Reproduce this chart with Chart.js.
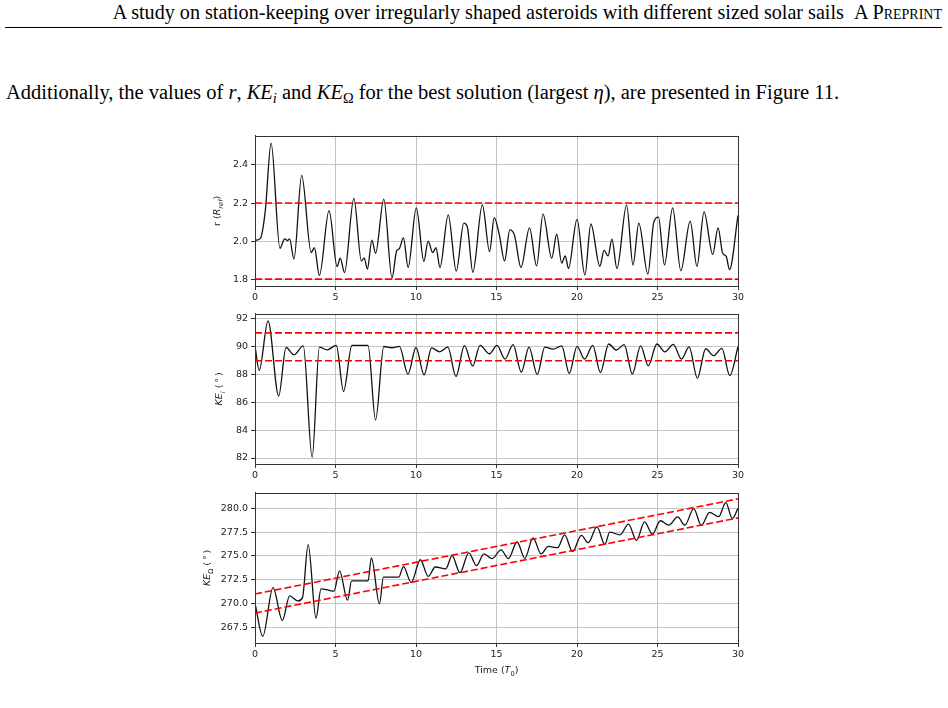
<!DOCTYPE html>
<html>
<head>
<meta charset="utf-8">
<script src="https://cdn.jsdelivr.net/npm/chart.js@4.4.1/dist/chart.umd.min.js"></script>
<style>
  body { margin: 0; width: 948px; height: 708px; background: #fff; position: relative; overflow: hidden;
         font-family: "Liberation Serif", "Times New Roman", serif; color: #000; }
  .hdr { position: absolute; right: 6px; top: 2px; font-size: 20.15px; line-height: 20px; white-space: nowrap; }
  .hdr .sc { font-variant: small-caps; }
  .rule { position: absolute; left: 5px; right: 6px; top: 27px; border-top: 1px solid #000; }
  .para { position: absolute; left: 6px; top: 82px; font-size: 20.5px; line-height: 20px; white-space: nowrap; }
  .para sub { font-size: 70%; line-height: 0; vertical-align: -0.25em; }
  canvas { position: absolute; left: 190px; }
</style>
</head>
<body>
<div class="hdr">A study on station-keeping over irregularly shaped asteroids with different sized solar sails&nbsp;&nbsp;<span class="sc">A Preprint</span></div>
<div class="rule"></div>
<div class="para">Additionally, the values of <i>r</i>, <i>KE<sub>i</sub></i> and <i>KE</i><sub>Ω</sub> for the best solution (largest <i>η</i>), are presented in Figure 11.</div>

<canvas id="rChart" width="560" height="179" style="top:127px"></canvas>
<canvas id="kiChart" width="560" height="179" style="top:305px"></canvas>
<canvas id="koChart" width="560" height="197" style="top:484px"></canvas>

<script>
// r (R_ref) over time
const r_t = [0, 0.33, 0.64, 1.0, 1.55, 1.84, 2.03, 2.15, 2.42, 2.9, 3.49, 3.69, 4.0, 4.6, 5.1, 5.29, 5.56, 6.14, 6.61, 6.78,
  6.98, 7.26, 7.49, 8.0, 8.51, 8.8, 8.96, 9.22, 9.51, 10.02, 10.49, 10.75, 11.04, 11.24, 11.49, 12.0, 12.5, 12.97, 13.19, 13.53,
  14.12, 14.57, 14.86, 15.17, 15.5, 15.83, 16.12, 16.52, 17.05, 17.49, 17.89, 18.43, 18.74, 19.05, 19.27, 19.47, 20.0, 20.49, 20.86, 21.42,
  21.68, 21.93, 22.17, 22.48, 23.08, 23.48, 23.84, 24.4, 24.77, 25.06, 25.43, 25.94, 26.45, 27.03, 27.45, 27.89, 28.43, 28.76, 29.05, 29.27,
  29.47, 30];
const r_val = [2.004, 2.013, 2.16, 2.515, 1.962, 2.012, 2.003, 2.012, 1.905, 2.345, 1.94, 1.965, 1.82, 2.16, 1.866, 1.91, 1.835, 2.225, 1.895, 1.912,
  1.853, 2.005, 1.936, 2.221, 1.806, 1.95, 1.96, 2.017, 1.862, 2.175, 1.893, 2.0, 1.94, 1.965, 1.862, 2.138, 1.843, 2.095, 2.074, 1.836,
  2.19, 1.945, 2.123, 2.035, 1.896, 2.059, 2.03, 1.862, 2.07, 1.87, 2.142, 1.91, 2.036, 1.884, 1.922, 1.856, 2.114, 1.822, 2.09, 1.867,
  1.951, 1.922, 2.01, 1.855, 2.189, 1.874, 2.095, 1.827, 2.1, 2.126, 1.875, 2.175, 1.844, 2.105, 1.867, 2.154, 1.93, 2.07, 1.936, 1.92,
  1.85, 2.135];

// KE_i (deg)
const ki_t = [0, 0.26, 0.81, 1.47, 1.93, 2.42, 3.0, 3.55, 4.0, 4.48, 5.05, 5.5, 6.02, 7.02, 7.49, 8.0, 8.5, 8.97, 9.5, 10.0,
  10.5, 10.97, 11.47, 11.98, 12.48, 13.01, 13.52, 13.98, 14.56, 15.03, 15.53, 16.03, 16.54, 17.02, 17.53, 18.0, 18.52, 19.05, 19.52, 20.0,
  20.47, 20.98, 21.45, 21.97, 22.44, 22.93, 23.44, 23.95, 24.43, 24.96, 25.46, 25.98, 26.49, 26.96, 27.48, 27.99, 28.48, 29.0, 29.49, 30];
const ki_val = [90.05, 88.3, 91.87, 86.46, 89.95, 89.43, 90.07, 82.05, 89.97, 89.78, 90.1, 86.8, 90.1, 90.1, 84.73, 90.02, 89.93, 90.03, 88.03, 89.95,
  87.99, 89.92, 89.64, 89.97, 87.87, 90.08, 88.62, 90.1, 89.5, 90.1, 89.12, 90.15, 88.17, 89.97, 88.01, 89.97, 89.83, 90.07, 88.08, 90.03,
  89.12, 90.1, 88.15, 90.2, 89.77, 90.15, 88.05, 90.06, 88.64, 90.2, 89.64, 90.17, 89.12, 90.0, 87.74, 89.86, 89.36, 89.88, 87.93, 90.0];

// KE_Omega (deg)
const ko_t = [0, 0.48, 1.12, 1.7, 2.15, 2.67, 2.95, 3.3, 3.79, 4.1, 4.57, 4.9, 5.25, 5.75, 6.0, 7.02, 7.23, 7.73, 7.98, 8.93,
  9.22, 9.7, 10.27, 10.76, 11.2, 11.85, 12.24, 12.73, 13.28, 13.76, 14.22, 14.73, 15.28, 15.74, 16.28, 16.76, 17.27, 17.77, 18.22, 18.8,
  19.23, 19.72, 20.27, 20.7, 21.24, 21.73, 22.03, 22.67, 23.2, 23.69, 24.2, 24.68, 25.18, 25.7, 26.25, 26.7, 27.25, 27.72, 28.23, 28.8,
  29.24, 29.65, 30];
const ko_val = [270.03, 266.55, 271.67, 268.22, 270.8, 270.27, 270.62, 276.19, 268.46, 271.53, 271.4, 271.3, 273.43, 270.35, 272.38, 272.38, 274.79, 269.97, 272.78, 272.78,
  273.87, 272.2, 274.6, 272.85, 273.84, 273.64, 275.03, 273.24, 275.33, 273.99, 275.22, 274.72, 275.64, 274.72, 276.47, 274.75, 276.9, 275.22, 276.0, 275.87,
  277.22, 275.45, 277.16, 276.4, 278.06, 276.2, 277.5, 277.22, 278.34, 276.64, 278.58, 277.3, 278.7, 278.24, 279.1, 278.24, 279.98, 278.2, 279.58, 279.13,
  280.6, 278.94, 280.0];

// red dashed limits
const band_t = [0, 30];
const r_upper = [2.2, 2.2], r_lower = [1.8, 1.8];
const ki_upper = [91, 91], ki_lower = [89, 89];
const ko_upper = [271, 281], ko_lower = [269, 279];

const FONT = '"DejaVu Sans", sans-serif';
const FS = 9.5;

function pts(xs, ys) { return xs.map((x, i) => ({ x: x, y: ys[i] })); }

// draws label parts (italic / subscript) centred at x,y
function drawRich(ctx, parts, x, y, rotate) {
  ctx.save();
  ctx.translate(x, y);
  if (rotate) ctx.rotate(-Math.PI / 2);
  ctx.textBaseline = 'middle';
  ctx.textAlign = 'left';
  ctx.fillStyle = '#222';
  const fontOf = p => (p.i ? 'italic ' : '') + (p.s ? FS * 0.7 : FS) + 'px ' + FONT;
  let w = 0;
  parts.forEach(p => { ctx.font = fontOf(p); w += ctx.measureText(p.t).width; });
  let cx = -w / 2;
  parts.forEach(p => {
    ctx.font = fontOf(p);
    ctx.fillText(p.t, cx, p.s ? FS * 0.3 : 0);
    cx += ctx.measureText(p.t).width;
  });
  ctx.restore();
}

const framePlugin = {
  id: 'frameLabels',
  afterDraw(chart, args, opts) {
    const { ctx, chartArea: a } = chart;
    ctx.save();
    ctx.strokeStyle = '#333';
    ctx.lineWidth = 1;
    const L = Math.round(a.left) + 0.5, T = Math.round(a.top) + 0.5;
    const R = Math.round(a.right) + 0.5, B = Math.round(a.bottom) + 0.5;
    ctx.strokeRect(L, T, R - L, B - T);
    ctx.restore();
    if (opts.yParts) drawRich(ctx, opts.yParts, opts.yX, (a.top + a.bottom) / 2, true);
    if (opts.xParts) drawRich(ctx, opts.xParts, (a.left + a.right) / 2, a.bottom + 28, false);
  }
};

function makeChart(id, t, vals, up, low, ymin, ymax, step, dec, labelOpts, padBottom) {
  return new Chart(document.getElementById(id), {
    type: 'line',
    data: {
      datasets: [
        { data: pts(band_t, up), borderColor: '#ff0000', borderWidth: 1.6, borderDash: [7, 3], pointRadius: 0, tension: 0 },
        { data: pts(band_t, low), borderColor: '#ff0000', borderWidth: 1.6, borderDash: [7, 3], pointRadius: 0, tension: 0 },
        { data: pts(t, vals), borderColor: '#111', borderWidth: 1.3, pointRadius: 0, cubicInterpolationMode: 'monotone' }
      ]
    },
    options: {
      responsive: false,
      animation: false,
      layout: { padding: { top: 8, right: 12, left: 0, bottom: padBottom } },
      plugins: { legend: { display: false }, tooltip: { enabled: false }, frameLabels: labelOpts },
      scales: {
        x: {
          type: 'linear', min: 0, max: 30,
          afterFit: s => { s.height = 20; },
          ticks: { stepSize: 5, padding: 2, color: '#222', font: { family: FONT, size: FS }, maxRotation: 0 },
          grid: { color: '#c4c4c4', lineWidth: 1, tickLength: 4, tickColor: '#333' },
          border: { color: '#333' }
        },
        y: {
          min: ymin, max: ymax,
          afterFit: s => { s.width = 65; },
          ticks: { stepSize: step, includeBounds: false, padding: 3, color: '#222', font: { family: FONT, size: FS },
                   callback: v => v.toFixed(dec) },
          grid: { color: '#c4c4c4', lineWidth: 1, tickLength: 4, tickColor: '#333' },
          border: { color: '#333' }
        }
      }
    },
    plugins: [framePlugin]
  });
}

makeChart('rChart', r_t, r_val, r_upper, r_lower, 1.764, 2.554, 0.2, 1, {
  yX: 28,
  yParts: [{ t: 'r (' }, { t: 'R', i: true }, { t: 'ref', i: true, s: true }, { t: ')' }]
}, 0);

makeChart('kiChart', ki_t, ki_val, ki_upper, ki_lower, 81.57, 92.38, 2, 0, {
  yX: 30,
  yParts: [{ t: 'KE', i: true }, { t: 'i', i: true, s: true }, { t: ' (\u2009°\u2009)' }]
}, 0);

makeChart('koChart', ko_t, ko_val, ko_upper, ko_lower, 265.85, 281.65, 2.5, 1, {
  yX: 18,
  yParts: [{ t: 'KE', i: true }, { t: 'Ω', s: true }, { t: ' (\u2009°\u2009)' }],
  xParts: [{ t: 'Time (' }, { t: 'T', i: true }, { t: '0', s: true }, { t: ')' }]
}, 18);
</script>
</body>
</html>
